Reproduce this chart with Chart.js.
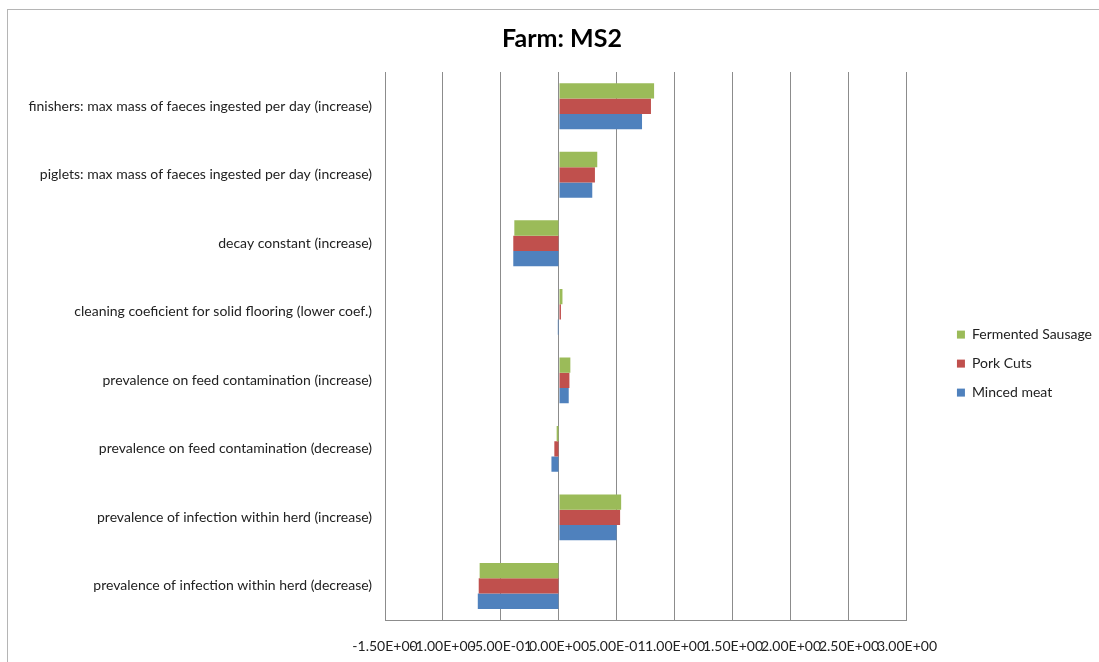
<!DOCTYPE html>
<html>
<head>
<meta charset="utf-8">
<script src="https://cdn.jsdelivr.net/npm/chart.js@4"></script>
<style>
  html, body { margin: 0; padding: 0; background: #fff; overflow: hidden; }
  #wrap { position: relative; width: 1099px; height: 662px; }
  #frame { position: absolute; left: 7px; top: 9px; width: 1100px; height: 660px; border-left: 1px solid #b5b5b5; border-top: 1px solid #b5b5b5; }
  canvas { position: absolute; left: 0; top: 0; }
</style>
</head>
<body>
<div id="wrap">
  <div id="frame"></div>
  <canvas id="farmChart" width="1099" height="662"></canvas>
</div>
<script>
// ── Farm MS2 sensitivity ───────────────────────
const categories = [
  'finishers: max mass of faeces ingested per day (increase)',
  'piglets: max mass of faeces ingested per day (increase)',
  'decay constant (increase)',
  'cleaning coeficient for solid flooring (lower coef.)',
  'prevalence on feed contamination (increase)',
  'prevalence on feed contamination (decrease)',
  'prevalence of infection within herd (increase)',
  'prevalence of infection within herd (decrease)'
];
const fermentedSausage = [0.82, 0.33, -0.385, 0.03, 0.098, -0.02, 0.536, -0.684];
const porkCuts         = [0.793, 0.31, -0.394, 0.017, 0.09, -0.04, 0.527, -0.692];
const mincedMeat       = [0.716, 0.287, -0.394, -0.01, 0.084, -0.065, 0.497, -0.70];
const xTicks = [-1.5, -1.0, -0.5, 0, 0.5, 1.0, 1.5, 2.0, 2.5, 3.0];

const font = 'Lato, "Open Sans", sans-serif';
const gridCol = '#8c8c8c';

// Excel style "5.00E-01"
const sci = v => {
  const [m, e] = Number(v).toExponential(2).split('e');
  const sign = e[0] === '-' ? '-' : '+';
  const digits = e.replace(/[+-]/, '').padStart(2, '0');
  return m + 'E' + sign + digits;
};

new Chart(document.getElementById('farmChart').getContext('2d'), {
  type: 'bar',
  data: {
    labels: categories,
    datasets: [
      { label: 'Fermented Sausage', data: fermentedSausage, backgroundColor: '#9BBB59' },
      { label: 'Pork Cuts', data: porkCuts, backgroundColor: '#C0504D' },
      { label: 'Minced meat', data: mincedMeat, backgroundColor: '#4F81BD' }
    ]
  },
  options: {
    indexAxis: 'y',
    responsive: false,
    animation: false,
    datasets: { bar: { categoryPercentage: 0.67, barPercentage: 1.0, borderWidth: 0 } },
    layout: { padding: { left: 22, right: -3, top: 19, bottom: -11 } },
    plugins: {
      title: {
        display: true, text: 'Farm: MS2', color: '#000',
        font: { family: font, size: 25, weight: 'bold' },
        padding: { top: 5, bottom: 18 }
      },
      legend: {
        position: 'right',
        title: { display: true, text: '', font: { size: 1 }, padding: { top: 19, bottom: 15 } },
        labels: { color: '#222', boxWidth: 8, boxHeight: 8, padding: 15, font: { family: font, size: 14 } }
      },
      tooltip: { enabled: false }
    },
    scales: {
      x: {
        type: 'linear', min: -1.5, max: 3.0,
        afterBuildTicks: s => { s.ticks = xTicks.map(v => ({ value: v })); },
        grid: { color: gridCol, drawTicks: false },
        border: { color: gridCol },
        ticks: {
          autoSkip: false, maxRotation: 0, minRotation: 0, padding: 18,
          color: '#222', font: { family: font, size: 14 },
          callback: v => sci(v)
        }
      },
      y: {
        grid: { display: false, drawTicks: false },
        border: { color: gridCol },
        ticks: { color: '#222', padding: 13, font: { family: font, size: 14 } },
        afterFit: s => { s.width = 363; }
      },
      gap: {
        type: 'linear', position: 'right', display: true,
        grid: { display: false }, border: { display: false }, ticks: { display: false },
        afterFit: s => { s.width = 35; }
      }
    }
  }
});
</script>
</body>
</html>
